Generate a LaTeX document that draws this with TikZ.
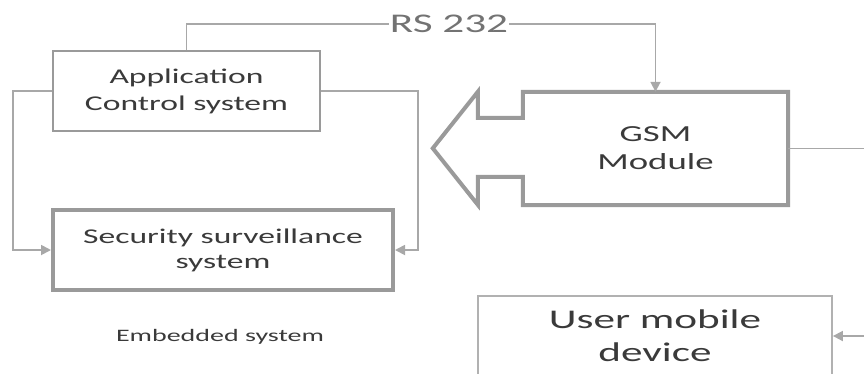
\documentclass[tikz,border=0pt]{standalone}
\usepackage{fontspec}
\newfontfamily\diagfont[FakeStretch=1.6]{Carlito}
\usepackage{tikz}
\usetikzlibrary{arrows.meta,positioning,calc}
\definecolor{linegray}{HTML}{A8A8A8}
\definecolor{boxgray}{HTML}{9A9A9A}
\definecolor{txtgray}{HTML}{3A3A3A}

\begin{document}
\begin{tikzpicture}[
    x=1pt, y=-1pt,
    font=\diagfont,
    block/.style={rectangle, draw=boxgray, line width=2.5pt, fill=white, text=txtgray, align=center, inner sep=0pt},
    heavy/.style={block, line width=4pt},
    light/.style={block, draw=linegray!90, line width=1.8pt},
    link/.style={draw=linegray, line width=1.8pt},
    arrow/.style={link, -{Triangle[length=10pt, width=10pt]}}
]
    \useasboundingbox (0,0) rectangle (864,373);
    \clip (0,0) rectangle (864,373);

    % --- Left: embedded system ---
    \node[block, minimum width=267pt, minimum height=80pt, font=\diagfont\fontsize{21}{27}\selectfont] (app) at (186.5,91) {Application\\Control system};
    \node[heavy, minimum width=340pt, minimum height=80pt, font=\diagfont\fontsize{21}{25}\selectfont] (sec) at (223,250) {Security surveillance\\system};
    \node[text=txtgray, font=\diagfont\fontsize{17.5}{20}\selectfont] (emb) at (220,337) {Embedded system};

    \draw[arrow] (app.west) -- (13,91) |- (sec.west);
    \draw[arrow] (app.east) -- (418,91) |- (sec.east);

    % --- Right: GSM module ---
    \node[text=txtgray, minimum width=265pt, minimum height=113pt, inner sep=0pt, align=center, font=\diagfont\fontsize{23}{28}\selectfont] (gsm) at (655.5,148.5) {GSM\\Module};
    \draw[boxgray, line width=4pt, line join=miter]
        (gsm.north east) -- (gsm.north west) -- ++(0,26) -- ++(-45,0) -- ++(0,-26)
        -- ++(-45,56.5) -- ++(45,56.5) -- ++(0,-28) -- ++(45,0)
        -- (gsm.south west) -- (gsm.south east) -- cycle;

    % RS 232 link
    \node[text=black!55, inner sep=1pt, font=\diagfont\fontsize{27}{30}\selectfont] (rs) at (449,24) {RS 232};
    \draw[link] (app.north) |- (rs.west);
    \draw[arrow] (rs.east) -| (gsm.north);

    % --- Bottom right: user device ---
    \node[light, minimum width=354pt, minimum height=80pt, font=\diagfont\fontsize{27}{33}\selectfont] (user) at (655,336) {User mobile\\device};

    \coordinate (gsmout) at (864,148.5);
    \coordinate (userin) at (864,336);
    \draw[link] (gsm.east) -- (gsmout);
    \draw[arrow] (userin) -- (user.east);

\end{tikzpicture}
\end{document}
